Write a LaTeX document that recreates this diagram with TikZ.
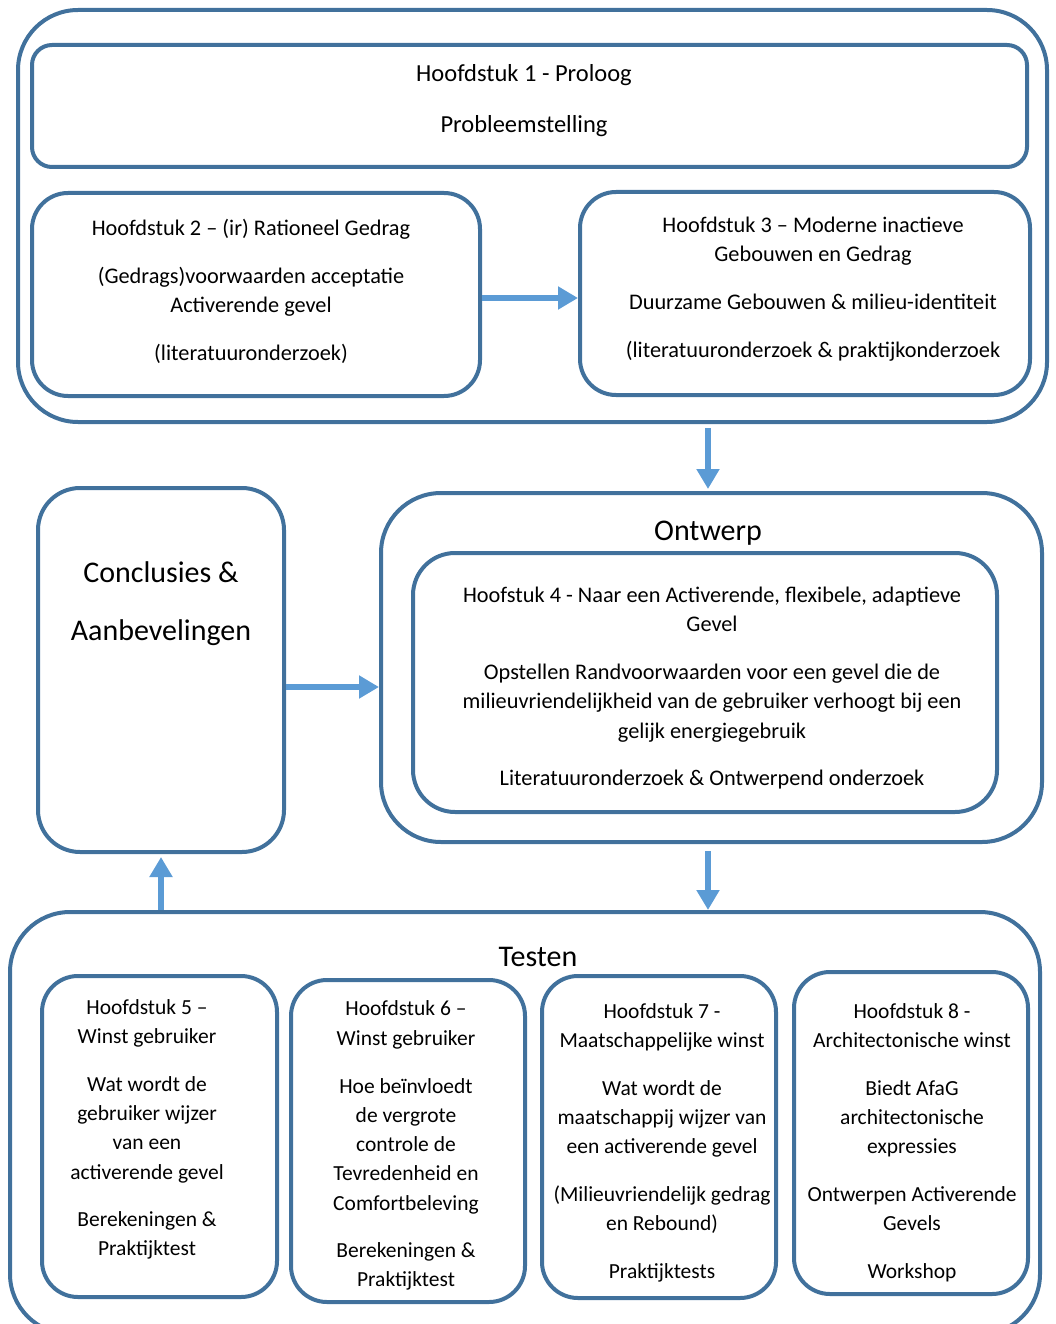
\documentclass[tikz,border=0pt]{standalone}
\usepackage{fontspec}
\setmainfont{Carlito}
\usetikzlibrary{arrows.meta,fit}
\definecolor{outl}{HTML}{41719C}
\definecolor{arrc}{HTML}{5B9BD5}
\begin{document}
\begin{tikzpicture}[x=1pt,y=-1pt,
  frame/.style={draw=outl, line width=4pt, inner sep=0pt, fill=none},
  arr/.style={draw=arrc, line width=6.5pt, -{Triangle[length=20pt,width=22pt]}},
  txt/.style={align=center, inner sep=0pt, text=black, font=\fontsize{22.3}{29.5}\selectfont},
  txtsm/.style={align=center, inner sep=0pt, text=black, font=\fontsize{21.5}{29.3}\selectfont},
  txtbig/.style={align=center, inner sep=0pt, text=black, font=\fontsize{30}{58}\selectfont}]
\useasboundingbox (0,0) rectangle (1055,1324);

% frames
\node[frame, rounded corners=60pt, fit={(18,10) (1047,422)}] (outer) {};
\node[frame, rounded corners=20pt, fit={(32,45) (1027,167)}] (b1) {};
\node[frame, rounded corners=36pt, fit={(32,193) (480,396)}] (b2) {};
\node[frame, rounded corners=36pt, fit={(580,192) (1030,395)}] (b3) {};
\node[frame, rounded corners=42pt, fit={(38,488) (284,852)}] (concl) {};
\node[frame, rounded corners=60pt, fit={(381,493) (1042,842)}] (ontwerp) {};
\node[frame, rounded corners=42pt, fit={(413,553) (997,812)}] (b4) {};
\node[frame, rounded corners=60pt, fit={(10,912) (1040,1334)}] (testen) {};
\node[frame, rounded corners=36pt, fit={(42,976) (277,1297)}] (b5) {};
\node[frame, rounded corners=36pt, fit={(291,980) (525,1302)}] (b6) {};
\node[frame, rounded corners=36pt, fit={(542,976) (776,1298)}] (b7) {};
\node[frame, rounded corners=36pt, fit={(794,972) (1028,1294)}] (b8) {};

% texts
\node[txt, font=\fontsize{24.5}{32}\selectfont] (t1) at (524,100.5)
  {\strut Hoofdstuk 1 - Proloog\\[19pt]Probleemstelling\strut};
\node[txt] (t2) at (251,292)
  {\strut Hoofdstuk 2 – (ir) Rationeel Gedrag\\[18.5pt](Gedrags)voorwaarden acceptatie\\Activerende gevel\\[18.5pt](literatuuronderzoek)\strut};
\node[txt] (t3) at (813,289)
  {\strut Hoofdstuk 3 – Moderne inactieve\\Gebouwen en Gedrag\\[18pt]Duurzame Gebouwen \& milieu-identiteit\\[18.5pt](literatuuronderzoek \& praktijkonderzoek\strut};
\node[txtbig] (tc) at (161,600)
  {\strut Conclusies \&\\Aanbevelingen\strut};
\node[txtbig, anchor=base] (to) at (708,540) {Ontwerp};
\node[txt] (t4) at (712,688)
  {\strut Hoofstuk 4 - Naar een Activerende, flexibele, adaptieve\\Gevel\\[18pt]Opstellen Randvoorwaarden voor een gevel die de\\milieuvriendelijkheid van de gebruiker verhoogt bij een\\gelijk energiegebruik\\[18pt]Literatuuronderzoek \& Ontwerpend onderzoek\strut};
\node[txtbig, anchor=base] (tt) at (538,966) {Testen};
\node[txtsm] (t5) at (147,1129)
  {\strut Hoofdstuk 5 –\\Winst gebruiker\\[18.5pt]Wat wordt de\\gebruiker wijzer\\van een\\activerende gevel\\[18pt]Berekeningen \&\\Praktijktest\strut};
\node[txtsm] (t6) at (406,1145.5)
  {\strut Hoofdstuk 6 –\\Winst gebruiker\\[18.5pt]Hoe beïnvloedt\\de vergrote\\controle de\\Tevredenheid en\\Comfortbeleving\\[18pt]Berekeningen \&\\Praktijktest\strut};
\node[txtsm] (t7) at (662,1142.5)
  {\strut Hoofdstuk 7 -\\Maatschappelijke winst\\[18pt]Wat wordt de\\maatschappij wijzer van\\een activerende gevel\\[18.5pt](Milieuvriendelijk gedrag\\en Rebound)\\[18pt]Praktijktests\strut};
\node[txtsm] (t8) at (912,1142.5)
  {\strut Hoofdstuk 8 -\\Architectonische winst\\[18pt]Biedt AfaG\\architectonische\\expressies\\[18.5pt]Ontwerpen Activerende\\Gevels\\[18pt]Workshop\strut};

% arrows
\draw[arr] ([yshift=-3.5pt]b2.east) -- ([yshift=-3.5pt]b2.east -| b3.west);
\draw[arr, shorten <=4pt, shorten >=2pt] ([xshift=-3.5pt]ontwerp.north |- outer.south) -- ([xshift=-3.5pt]ontwerp.north);
\draw[arr] ([yshift=-17pt]concl.east) -- ([yshift=-17pt]concl.east -| ontwerp.west);
\draw[arr, shorten <=7pt] ([xshift=-3.5pt]ontwerp.south) -- ([xshift=-3.5pt]ontwerp.south |- testen.north);
\draw[arr, shorten >=3pt] (concl.south |- testen.north) -- (concl.south);
\end{tikzpicture}
\end{document}
